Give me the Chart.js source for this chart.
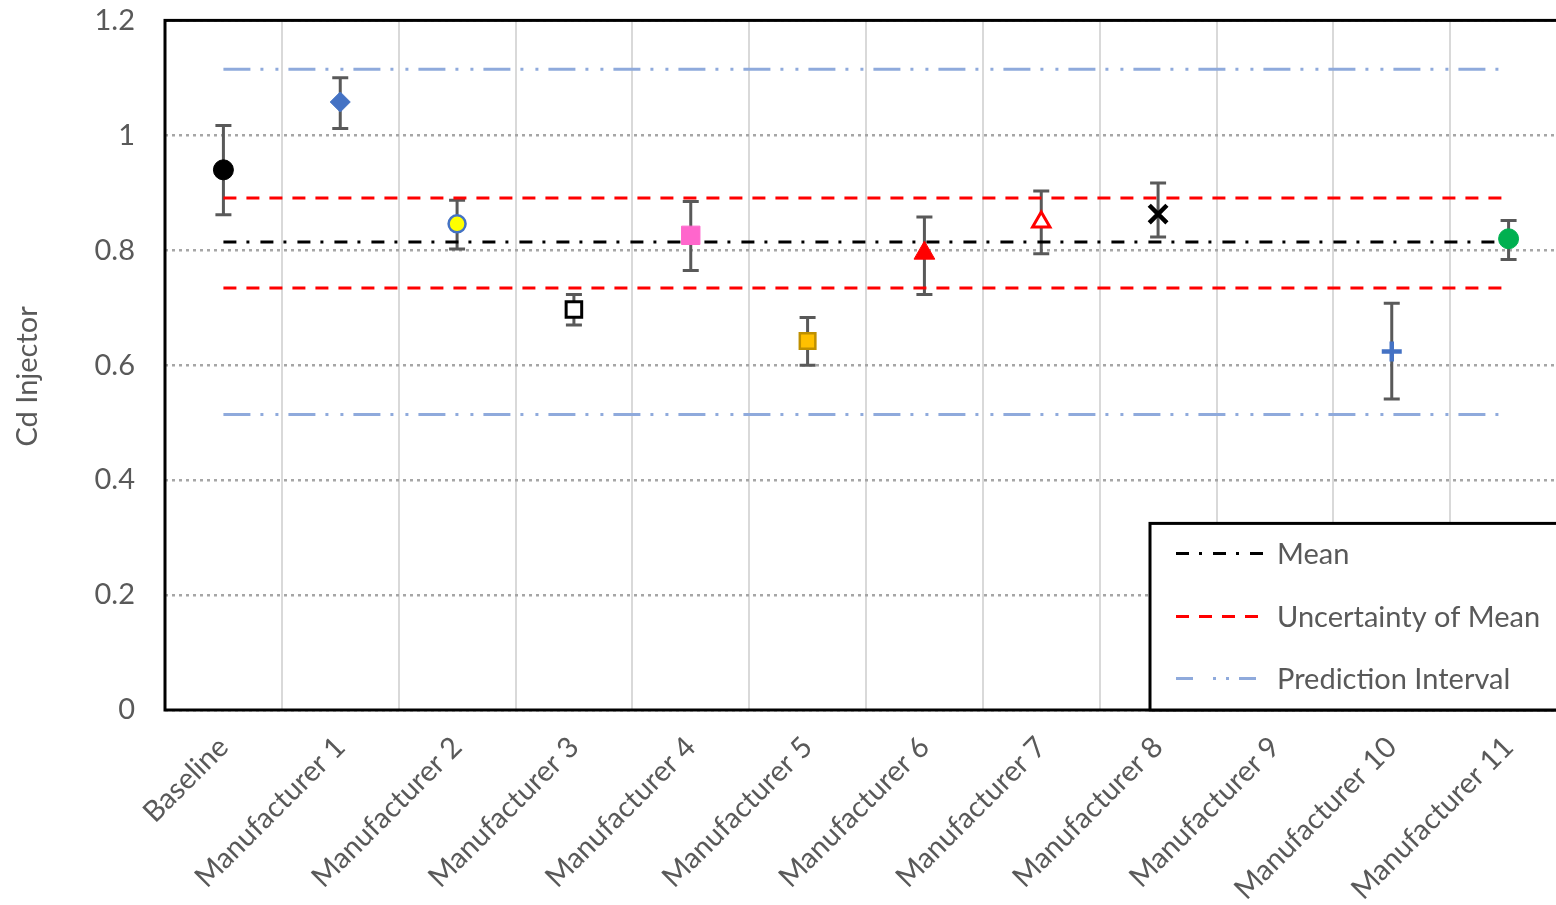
<!DOCTYPE html>
<html>
<head>
<meta charset="utf-8">
<script src="https://cdn.jsdelivr.net/npm/chart.js@4"></script>
<style>
  html, body { margin: 0; padding: 0; background: #fff; overflow: hidden; }
  #wrap { position: relative; top: -27px; width: 1578px; height: 932px; }
</style>
</head>
<body>
<div id="wrap"><canvas id="cdChart"></canvas></div>
<script>
const categories = ['Baseline', 'Manufacturer 1', 'Manufacturer 2', 'Manufacturer 3', 'Manufacturer 4',
  'Manufacturer 5', 'Manufacturer 6', 'Manufacturer 7', 'Manufacturer 8', 'Manufacturer 9',
  'Manufacturer 10', 'Manufacturer 11'];
const cdValues = [0.940, 1.058, 0.846, 0.697, 0.826, 0.642, 0.795, 0.849, 0.863, null, 0.624, 0.820];
const errLow   = [0.862, 1.012, 0.802, 0.670, 0.765, 0.600, 0.723, 0.794, 0.823, null, 0.541, 0.784];
const errHigh  = [1.017, 1.100, 0.887, 0.723, 0.885, 0.683, 0.858, 0.903, 0.917, null, 0.708, 0.852];
const meanValue = 0.8145;
const uncertaintyBand = [0.7345, 0.891];
const predictionBand = [0.514, 1.115];
const yTicks = [0, 0.2, 0.4, 0.6, 0.8, 1, 1.2];

// marker look for each category
const pointStyles = ['circle', 'rectRot', 'circle', 'rect', 'rect', 'rect', 'triangle', 'triangle', 'crossRot', 'circle', 'cross', 'circle'];
const pointFill = ['#000000', '#4472C4', '#FFFF00', '#FFFFFF', '#FF66CC', '#FFC000', '#FF0000', '#FFFFFF', '#000000', '#000000', '#4472C4', '#00B050'];
const pointLine = ['#000000', '#4472C4', '#4472C4', '#000000', '#FF66CC', '#BF9000', '#FF0000', '#FF0000', '#000000', '#000000', '#4472C4', '#00B050'];
const pointSize = [10, 10, 8.5, 11, 13, 11, 12, 10, 12.5, 0, 10, 10];
const pointWidth = [1, 1, 2.5, 3, 1, 2.5, 1, 3, 4.5, 1, 4.5, 1];

const TEXT = '#595959';
const FONT = 'Lato';

const first = categories[0];
const last = categories[categories.length - 1];
const hLine = (v) => [{ x: first, y: v }, { x: last, y: v }];

const meanDash = [13, 10, 3, 11];
const uncDash = [13, 10];
const predDash = [27, 10, 3, 12, 3, 10];

const errorBars = {
  id: 'errorBars',
  beforeDatasetsDraw(chart) {
    const { ctx, scales: { x, y } } = chart;
    ctx.save();
    ctx.strokeStyle = '#595959';
    ctx.lineWidth = 3;
    ctx.setLineDash([]);
    for (let i = 0; i < categories.length; i++) {
      if (errLow[i] == null) continue;
      const px = x.getPixelForValue(i);
      const top = y.getPixelForValue(errHigh[i]);
      const bot = y.getPixelForValue(errLow[i]);
      ctx.beginPath();
      ctx.moveTo(px, top); ctx.lineTo(px, bot);
      ctx.moveTo(px - 8, top); ctx.lineTo(px + 8, top);
      ctx.moveTo(px - 8, bot); ctx.lineTo(px + 8, bot);
      ctx.stroke();
    }
    ctx.restore();
  }
};

const frameAndLegend = {
  id: 'frameAndLegend',
  afterDraw(chart) {
    const { ctx, chartArea: a } = chart;
    ctx.save();
    ctx.setLineDash([]);
    ctx.strokeStyle = '#000';
    ctx.lineWidth = 3;
    ctx.strokeRect(a.left, a.top, a.right - a.left, a.bottom - a.top);

    // axis title, placed like the original
    ctx.save();
    ctx.translate(28, a.top + 356);
    ctx.rotate(-Math.PI / 2);
    ctx.font = '29px ' + FONT;
    ctx.fillStyle = TEXT;
    ctx.textAlign = 'center';
    ctx.textBaseline = 'middle';
    ctx.fillText('Cd Injector', 0, 0);
    ctx.restore();

    // legend box
    const bx = 1150, by = a.top + 503;
    ctx.fillStyle = '#fff';
    ctx.fillRect(bx, by, a.right - bx, a.bottom - by);
    ctx.strokeRect(bx, by, a.right - bx + 10, a.bottom - by);

    const items = [
      { label: 'Mean', ds: 1, dy: 533 },
      { label: 'Uncertainty of Mean', ds: 2, dy: 596 },
      { label: 'Prediction Interval', ds: 4, dy: 658 }
    ];
    ctx.font = '29px ' + FONT;
    ctx.textBaseline = 'middle';
    ctx.textAlign = 'left';
    items.forEach(it => {
      const ds = chart.data.datasets[it.ds];
      const ly = a.top + it.dy;
      ctx.strokeStyle = ds.borderColor;
      ctx.lineWidth = ds.borderWidth;
      ctx.setLineDash(it.ds === 4 ? [17, 20, 3, 10, 3, 10] : ds.borderDash);
      ctx.beginPath();
      ctx.moveTo(1176, ly);
      ctx.lineTo(1265, ly);
      ctx.stroke();
      ctx.fillStyle = TEXT;
      ctx.fillText(it.label, 1277, ly + 1);
    });
    ctx.restore();
  }
};

new Chart(document.getElementById('cdChart'), {
  data: {
    labels: categories,
    datasets: [
      {
        type: 'line',
        label: 'Cd Injector',
        data: cdValues,
        showLine: false,
        pointStyle: pointStyles,
        backgroundColor: pointFill,
        borderColor: pointLine,
        pointRadius: pointSize,
        pointBorderWidth: pointWidth,
        order: 0
      },
      { type: 'line', label: 'Mean', data: hLine(meanValue), borderColor: '#000000', borderWidth: 3, borderDash: meanDash, pointRadius: 0, order: 3 },
      { type: 'line', label: 'Uncertainty of Mean', data: hLine(uncertaintyBand[1]), borderColor: '#FF0000', borderWidth: 3, borderDash: uncDash, pointRadius: 0, order: 3 },
      { type: 'line', label: 'Uncertainty of Mean low', data: hLine(uncertaintyBand[0]), borderColor: '#FF0000', borderWidth: 3, borderDash: uncDash, pointRadius: 0, order: 3 },
      { type: 'line', label: 'Prediction Interval', data: hLine(predictionBand[1]), borderColor: '#8FAADC', borderWidth: 3, borderDash: predDash, pointRadius: 0, order: 3 },
      { type: 'line', label: 'Prediction Interval low', data: hLine(predictionBand[0]), borderColor: '#8FAADC', borderWidth: 3, borderDash: predDash, pointRadius: 0, order: 3 }
    ]
  },
  options: {
    responsive: true,
    maintainAspectRatio: false,
    animation: false,
    layout: { padding: { top: 20, right: 6, left: 0, bottom: 0 } },
    plugins: {
      legend: { display: false },
      tooltip: { enabled: false }
    },
    scales: {
      x: {
        type: 'category',
        offset: true,
        grid: { offset: true, color: '#D9D9D9', lineWidth: 2, drawTicks: false },
        border: { display: false },
        ticks: {
          autoSkip: false,
          minRotation: 45,
          maxRotation: 45,
          padding: 20,
          color: TEXT,
          font: { family: FONT, size: 29 }
        },
        afterFit(scale) { scale.height = 195; }
      },
      y: {
        min: 0,
        max: 1.2,
        afterBuildTicks(scale) { scale.ticks = yTicks.map(v => ({ value: v })); },
        grid: { color: '#A6A6A6', lineWidth: 2.5, drawTicks: false },
        border: { display: false, dash: [3, 4] },
        ticks: {
          padding: 30,
          color: TEXT,
          font: { family: FONT, size: 29 },
          callback: (v) => String(Math.round(v * 10) / 10)
        },
        afterFit(scale) { scale.width = 165; }
      }
    }
  },
  plugins: [errorBars, frameAndLegend]
});
</script>
</body>
</html>
